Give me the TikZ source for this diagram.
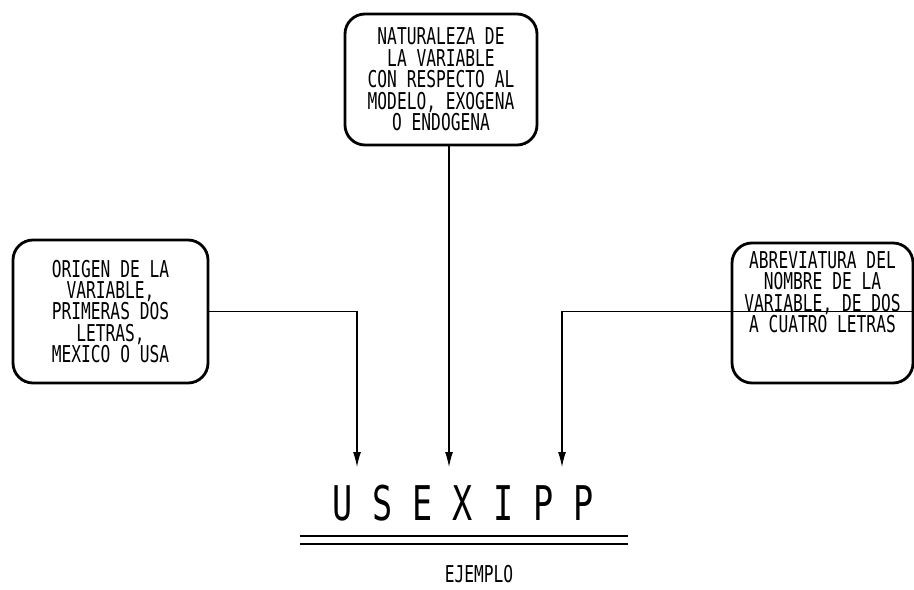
\documentclass[tikz,border=0pt]{standalone}
\usepackage{fontspec}
\usepackage{tikz}
\usetikzlibrary{arrows.meta}
\newfontfamily\plotfont[FakeStretch=0.7]{DejaVu Sans Mono}

\tikzset{
    notebox/.style={draw, line width=1.6pt, rounded corners=0.4cm, align=center,
        font=\plotfont\fontsize{13.2}{12.2}\selectfont, inner sep=2pt},
    feed/.style={line width=0.6pt, ->}
}

\begin{document}
\begin{tikzpicture}[>={Latex[length=8.5pt,width=4.5pt]}]
    \useasboundingbox (0,0) rectangle (18.28,11.78);
    \node[notebox, minimum width=3.84cm, minimum height=2.62cm] (naturaleza) at (8.82,10.19)
        {NATURALEZA DE\\LA VARIABLE\\CON RESPECTO AL\\MODELO, EXOGENA\\O ENDOGENA};
    \node[notebox, minimum width=3.9cm, minimum height=2.86cm] (origen) at (2.21,5.55)
        {ORIGEN DE LA\\VARIABLE,\\PRIMERAS DOS\\LETRAS,\\MEXICO O USA};
    \node[notebox, minimum width=3.62cm, minimum height=2.8cm, text depth=0.83cm] (abrev) at (16.45,5.52)
        {ABREVIATURA DEL\\NOMBRE DE LA\\VARIABLE, DE DOS\\A CUATRO LETRAS};
    \node[font=\plotfont\fontsize{27.2}{30}\selectfont] (clave) at (9.26,1.72) {U S E X I P P};
    \node[font=\plotfont\fontsize{13.2}{12.2}\selectfont] (ejemplo) at (9.58,0.3) {EJEMPLO};
    \coordinate (finA) at (7.14,2.44);
    \coordinate (finB) at (8.98,2.44);
    \coordinate (finC) at (11.24,2.44);
    \draw[feed] (origen.east) -| (finA);
    \draw[feed] (naturaleza.south -| finB) -- (finB);
    \draw[feed] (abrev.east |- origen.east) -| (finC);
    \draw[line width=1.1pt] (6.0,1.06) -- (12.56,1.06);
    \draw[line width=1.1pt] (6.0,0.90) -- (12.56,0.90);
\end{tikzpicture}
\end{document}
